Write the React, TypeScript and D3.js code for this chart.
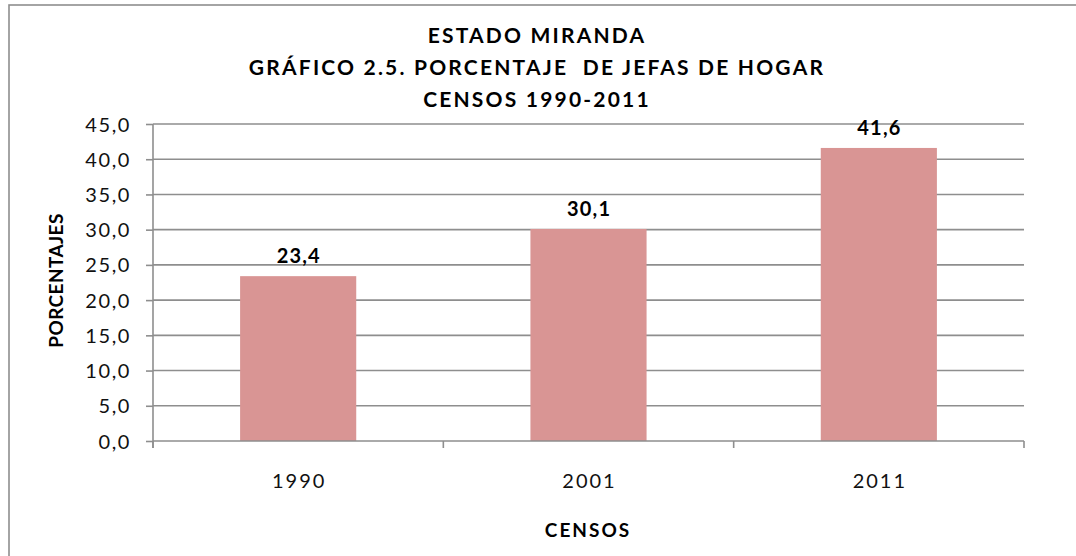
import React, { useEffect, useRef } from 'react';
import * as d3 from 'd3';

const censos = ['1990', '2001', '2011'];
const porcentajes = [23.4, 30.1, 41.6];
const yTicks = [0, 5, 10, 15, 20, 25, 30, 35, 40, 45];
const titleLines = ['ESTADO MIRANDA', 'GRÁFICO 2.5. PORCENTAJE  DE JEFAS DE HOGAR', 'CENSOS 1990-2011'];

const fmt = (v: number) => v.toFixed(1).replace('.', ',');

export default function App() {
  const ref = useRef<SVGSVGElement>(null);

  useEffect(() => {
    const width = 1076;
    const height = 556;
    const margin = { top: 124, right: 52, bottom: 115, left: 153 };
    const innerWidth = width - margin.left - margin.right;
    const innerHeight = height - margin.top - margin.bottom;
    const font = 'Lato, "Open Sans", sans-serif';
    const grey = '#8e8e8e';

    const svg = d3.select(ref.current).attr('width', width).attr('height', height);
    svg.selectAll('*').remove();

    // outer frame (right and bottom edges fall outside the picture)
    svg.append('rect')
      .attr('x', 9).attr('y', 5)
      .attr('width', width + 20).attr('height', height + 20)
      .attr('fill', 'white').attr('stroke', grey).attr('stroke-width', 1.6);

    const xScale = d3.scaleBand().domain(censos).range([0, innerWidth]).paddingInner(0.6).paddingOuter(0.3);
    const xBand = d3.scaleBand().domain(censos).range([0, innerWidth]);
    const yScale = d3.scaleLinear().domain([0, 45]).range([innerHeight, 0]);

    const g = svg.append('g').attr('transform', `translate(${margin.left}, ${margin.top})`);

    // gridlines
    g.selectAll('.grid').data(yTicks.filter(d => d > 0)).join('line')
      .attr('class', 'grid')
      .attr('x1', 0).attr('x2', innerWidth)
      .attr('y1', d => yScale(d)).attr('y2', d => yScale(d))
      .attr('stroke', grey).attr('stroke-width', 1.6);

    // bars
    g.selectAll('.bar').data(porcentajes).join('rect')
      .attr('class', 'bar')
      .attr('x', (d, i) => xScale(censos[i])!)
      .attr('width', xScale.bandwidth())
      .attr('y', d => yScale(d))
      .attr('height', d => innerHeight - yScale(d))
      .attr('fill', '#d99594');

    // value labels
    g.selectAll('.val').data(porcentajes).join('text')
      .attr('class', 'val')
      .attr('x', (d, i) => xScale(censos[i])! + xScale.bandwidth() / 2 + 0.6)
      .attr('y', d => yScale(d) - 13)
      .attr('text-anchor', 'middle')
      .style('font-family', font).style('font-weight', 'bold').style('font-size', '20px')
      .style('letter-spacing', '1.2px')
      .text(d => fmt(d));

    // y axis
    const yAxis = d3.axisLeft(yScale).tickValues(yTicks).tickFormat(d => fmt(d as number)).tickSize(7).tickPadding(15);
    const ya = g.append('g').call(yAxis);
    ya.select('.domain').attr('stroke', grey).attr('stroke-width', 1.6).attr('d', `M0,0V${innerHeight + 7}`);
    ya.selectAll('.tick line').attr('stroke', grey).attr('stroke-width', 1.6);
    ya.selectAll('.tick text').style('font-family', font).style('font-size', '20px')
      .style('letter-spacing', '1.6px').attr('fill', '#111').attr('dy', '0.35em');

    // x axis
    const xa = g.append('g').attr('transform', `translate(0, ${innerHeight})`);
    xa.append('line').attr('x1', 0).attr('x2', innerWidth).attr('stroke', grey).attr('stroke-width', 1.6);
    xa.selectAll('.xt').data([...censos.map(c => xBand(c)!), innerWidth]).join('line')
      .attr('class', 'xt')
      .attr('x1', d => d).attr('x2', d => d).attr('y1', 0).attr('y2', 7)
      .attr('stroke', grey).attr('stroke-width', 1.6);
    xa.selectAll('.xl').data(censos).join('text')
      .attr('class', 'xl')
      .attr('x', d => xBand(d)! + xBand.bandwidth() / 2 + 1)
      .attr('y', 47)
      .attr('text-anchor', 'middle')
      .style('font-family', font).style('font-size', '20px').style('letter-spacing', '2px').attr('fill', '#111')
      .text(d => d);

    // title
    svg.append('g').selectAll('text').data(titleLines).join('text')
      .attr('x', 537)
      .attr('y', (d, i) => 43 + i * 32)
      .attr('text-anchor', 'middle')
      .style('font-family', font).style('font-weight', 'bold').style('font-size', '21px')
      .style('letter-spacing', '2.2px').style('white-space', 'pre')
      .text(d => d);

    svg.append('text')
      .attr('x', 588).attr('y', 537)
      .attr('text-anchor', 'middle')
      .style('font-family', font).style('font-weight', 'bold').style('font-size', '19px')
      .style('letter-spacing', '2px')
      .text('CENSOS');

    svg.append('text')
      .attr('transform', `translate(63, ${margin.top + innerHeight / 2 - 2}) rotate(-90)`)
      .attr('text-anchor', 'middle')
      .style('font-family', font).style('font-weight', 'bold').style('font-size', '19px')
      .style('letter-spacing', '0.4px')
      .text('PORCENTAJES');
  }, []);

  return <svg ref={ref} style={{ position: 'absolute', left: 0, top: 0 }} />;
}
